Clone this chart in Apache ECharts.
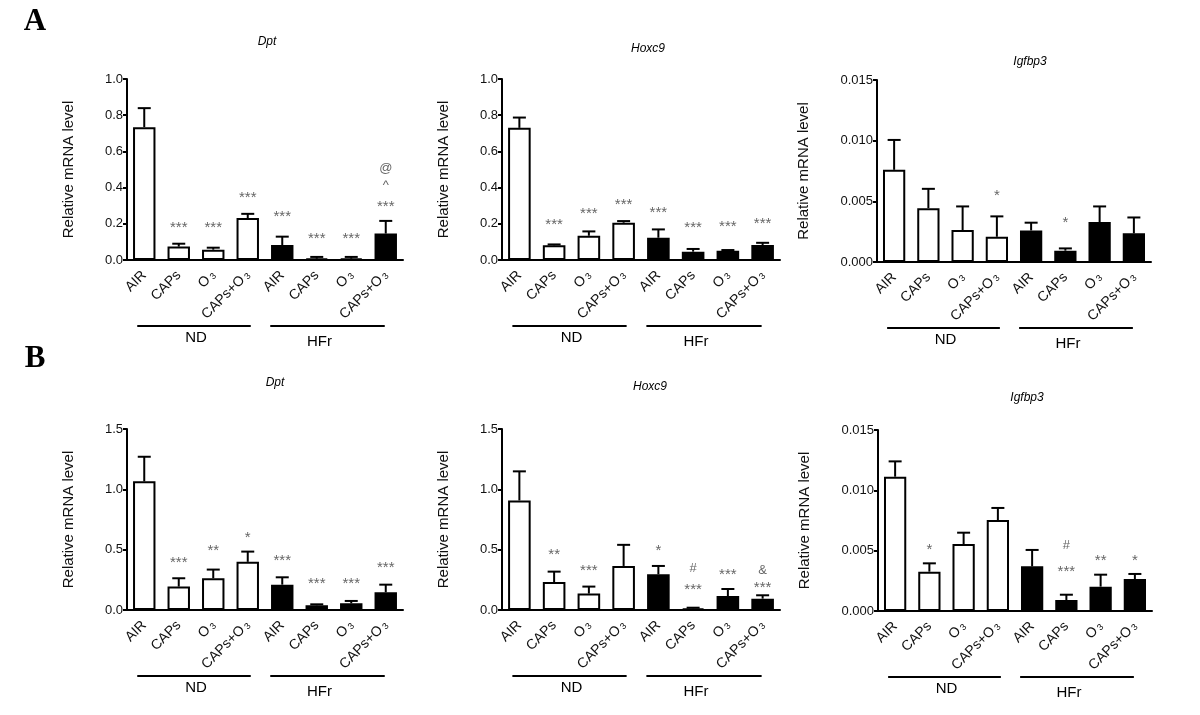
<!DOCTYPE html>
<html><head><meta charset="utf-8">
<script src="https://cdn.jsdelivr.net/npm/echarts@6/dist/echarts.min.js"></script>
<style>html,body{margin:0;padding:0;background:#fff}#c{width:1200px;height:715px}</style>
</head><body><div id="c"></div>
<script>
// ---- data ----
const categories = ['AIR', 'CAPs', 'O3', 'CAPs+O3', 'AIR', 'CAPs', 'O3', 'CAPs+O3'];
const groupNames = ['ND', 'HFr'];
const panelLetters = ['A', 'B'];
const genes = ['Dpt', 'Hoxc9', 'Igfbp3'];
const yAxisTitle = 'Relative mRNA level';

const dptA_mean = [0.734, 0.074, 0.057, 0.232, 0.083, 0.007, 0.007, 0.146];
const dptA_sem  = [0.105, 0.016, 0.011, 0.023, 0.046, 0.010, 0.010, 0.070];
const dptA_marks = [[1,0.199,'***'],[2,0.199,'***'],[3,0.365,'***'],[4,0.262,'***'],[5,0.137,'***'],[6,0.137,'***'],[7,0.314,'***'],[7,0.424,'^'],[7,0.498,'@']];

const hoxA_mean = [0.730, 0.081, 0.134, 0.206, 0.123, 0.046, 0.051, 0.083];
const hoxA_sem  = [0.057, 0.005, 0.024, 0.009, 0.046, 0.015, 0.004, 0.012];
const hoxA_marks = [[1,0.217,'***'],[2,0.275,'***'],[3,0.328,'***'],[4,0.283,'***'],[5,0.200,'***'],[6,0.206,'***'],[7,0.222,'***']];

const igfA_mean = [0.0076, 0.00444, 0.00263, 0.00208, 0.0026, 0.00093, 0.00329, 0.00236];
const igfA_sem  = [0.00246, 0.00159, 0.00195, 0.00168, 0.00064, 0.00019, 0.00129, 0.00131];
const igfA_marks = [[3,0.00581,'*'],[5,0.00356,'*']];

const dptB_mean = [1.066, 0.194, 0.263, 0.399, 0.210, 0.039, 0.055, 0.147];
const dptB_sem  = [0.204, 0.069, 0.072, 0.085, 0.061, 0.008, 0.020, 0.063];
const dptB_marks = [[1,0.42,'***'],[2,0.52,'**'],[3,0.628,'*'],[4,0.443,'***'],[5,0.249,'***'],[6,0.249,'***'],[7,0.379,'***']];

const hoxB_mean = [0.908, 0.232, 0.136, 0.365, 0.296, 0.014, 0.116, 0.094];
const hoxB_sem  = [0.241, 0.086, 0.058, 0.175, 0.069, 0.005, 0.058, 0.028];
const hoxB_marks = [[1,0.493,'**'],[2,0.36,'***'],[4,0.52,'*'],[5,0.346,'#'],[5,0.2,'***'],[6,0.327,'***'],[7,0.324,'&'],[7,0.219,'***']];

const igfB_mean = [0.01113, 0.00326, 0.00555, 0.00754, 0.0037, 0.00091, 0.00202, 0.00265];
const igfB_sem  = [0.00127, 0.00069, 0.00094, 0.00100, 0.00136, 0.00044, 0.00099, 0.00042];
const igfB_marks = [[1,0.00541,'*'],[5,0.00541,'#'],[5,0.00359,'***'],[6,0.0045,'**'],[7,0.0045,'*']];

const yMaxA = [1.0, 1.0, 0.015];
const yMaxB = [1.5, 1.5, 0.015];
const yStepA = [0.2, 0.2, 0.005];
const yStepB = [0.5, 0.5, 0.005];

// ---- layout ----
const FONT = '"Liberation Sans", Arial, sans-serif';
const panels = [
  {title: genes[0], mean: dptA_mean, sem: dptA_sem, marks: dptA_marks, max: yMaxA[0], step: yStepA[0], dec: 1, grid: {left:127, top:79, width:276, height:181}, gap: 51, tpos: [267, 42]},
  {title: genes[1], mean: hoxA_mean, sem: hoxA_sem, marks: hoxA_marks, max: yMaxA[1], step: yStepA[1], dec: 1, grid: {left:502, top:79, width:278, height:181}, gap: 51, tpos: [648, 49]},
  {title: genes[2], mean: igfA_mean, sem: igfA_sem, marks: igfA_marks, max: yMaxA[2], step: yStepA[2], dec: 3, grid: {left:877, top:80, width:274, height:182}, gap: 66, tpos: [1030, 62]},
  {title: genes[0], mean: dptB_mean, sem: dptB_sem, marks: dptB_marks, max: yMaxB[0], step: yStepB[0], dec: 1, grid: {left:127, top:429, width:276, height:181}, gap: 51, tpos: [275, 383]},
  {title: genes[1], mean: hoxB_mean, sem: hoxB_sem, marks: hoxB_marks, max: yMaxB[1], step: yStepB[1], dec: 1, grid: {left:502, top:429, width:278, height:181}, gap: 51, tpos: [650, 387]},
  {title: genes[2], mean: igfB_mean, sem: igfB_sem, marks: igfB_marks, max: yMaxB[2], step: yStepB[2], dec: 3, grid: {left:878, top:430, width:274, height:181}, gap: 66, tpos: [1027, 398]}
];

const glyphStyle = {'*': [15, 4], '^': [13, 2], '@': [13, -1], '#': [13, 0], '&': [13, 0]};

const chart = echarts.init(document.getElementById('c'), null, {renderer: 'canvas'});

const grids = [], xAxes = [], yAxes = [], series = [];
panels.forEach((p, i) => {
  grids.push(Object.assign({containLabel: false}, p.grid));
  xAxes.push({
    type: 'category', gridIndex: i, data: categories, boundaryGap: true,
    axisLine: {lineStyle: {color: '#000', width: 2}},
    axisTick: {alignWithLabel: true, length: 5, lineStyle: {color: '#000', width: 2}},
    axisLabel: {
      rotate: 45, interval: 0, margin: 13, color: '#111', fontSize: 14, fontFamily: FONT,
      formatter: v => v.replace('O3', '{n|O}{s|3}'),
      rich: {n: {fontSize: 14, fontFamily: FONT, color: '#111'}, s: {fontSize: 9, fontFamily: FONT, color: '#111', verticalAlign: 'bottom', padding: [0, 0, 0, 2]}}
    },
    splitLine: {show: false}
  });
  yAxes.push({
    type: 'value', gridIndex: i, min: 0, max: p.max, interval: p.step,
    name: yAxisTitle, nameLocation: 'middle', nameRotate: 90, nameGap: p.gap,
    nameTextStyle: {fontSize: 15, fontFamily: FONT, color: '#111'},
    axisLine: {show: true, lineStyle: {color: '#000', width: 2}},
    axisTick: {show: true, length: 4, lineStyle: {color: '#000', width: 2}},
    axisLabel: {color: '#111', fontSize: 13, fontFamily: FONT, margin: 4, formatter: v => v.toFixed(p.dec)},
    splitLine: {show: false}
  });
  series.push({
    type: 'bar', xAxisIndex: i, yAxisIndex: i, barWidth: '65%',
    data: p.mean.map((m, k) => ({value: m, itemStyle: {color: k < 4 ? '#fff' : '#000'}})),
    itemStyle: {borderColor: '#000', borderWidth: 2},
    silent: true, z: 2
  });
  series.push({
    type: 'custom', xAxisIndex: i, yAxisIndex: i, z: 3, silent: true,
    encode: {x: 0, y: 2},
    data: p.mean.map((m, k) => [k, m, m + p.sem[k]]),
    renderItem: (params, api) => {
      const a = api.coord([api.value(0), api.value(1)]);
      const b = api.coord([api.value(0), api.value(2)]);
      const cw = 6.5;
      return {type: 'group', children: [
        {type: 'line', shape: {x1: a[0], y1: a[1], x2: b[0], y2: b[1]}, style: {stroke: '#000', lineWidth: 2}},
        {type: 'line', shape: {x1: b[0] - cw, y1: b[1], x2: b[0] + cw, y2: b[1]}, style: {stroke: '#000', lineWidth: 2}}
      ]};
    }
  });
  series.push({
    type: 'custom', xAxisIndex: i, yAxisIndex: i, z: 4, silent: true,
    encode: {x: 0, y: 1},
    data: p.marks.map(m => [m[0], m[1]]),
    renderItem: (params, api) => {
      const t = p.marks[params.dataIndex][2];
      const c = api.coord([api.value(0), api.value(1)]);
      const gs = glyphStyle[t[0]] || [13, 0];
      return {type: 'text', x: c[0], y: c[1] + gs[1], style: {
        text: t, fill: '#666', font: gs[0] + 'px ' + FONT,
        textAlign: 'center', textVerticalAlign: 'middle', align: 'center', verticalAlign: 'middle'
      }};
    }
  });
});

chart.setOption({
  animation: false,
  backgroundColor: '#fff',
  grid: grids, xAxis: xAxes, yAxis: yAxes, series: series
});

// decorative text & group bars, placed from the axes
const graphics = [];
function txt(x, y, text, font, align) {
  return {type: 'text', x: x, y: y, silent: true, style: {text: text, font: font, fill: '#000',
    textAlign: align || 'center', textVerticalAlign: 'middle', align: align || 'center', verticalAlign: 'middle'}};
}
graphics.push(txt(35, 22, panelLetters[0], 'bold 31px "Liberation Serif", "Times New Roman", serif'));
graphics.push(txt(35, 359, panelLetters[1], 'bold 31px "Liberation Serif", "Times New Roman", serif'));
panels.forEach((p, i) => {
  graphics.push(txt(p.tpos[0], p.tpos[1], p.title, 'italic 12px ' + FONT));
  const px = k => chart.convertToPixel({gridIndex: i}, [k, 0]);
  const y0 = px(0)[1];
  const lineY = y0 + 66;
  const segs = [[px(0)[0] - 7, px(3)[0] + 3, 2, 78], [px(4)[0] - 12, px(7)[0] - 1, -8, 82]];
  segs.forEach((s, g) => {
    graphics.push({type: 'line', silent: true, shape: {x1: s[0], y1: lineY, x2: s[1], y2: lineY}, style: {stroke: '#000', lineWidth: 2}});
    graphics.push(txt((s[0] + s[1]) / 2 + s[2], y0 + s[3], groupNames[g], '15px ' + FONT));
  });
});
chart.setOption({graphic: graphics});
</script>
</body></html>
